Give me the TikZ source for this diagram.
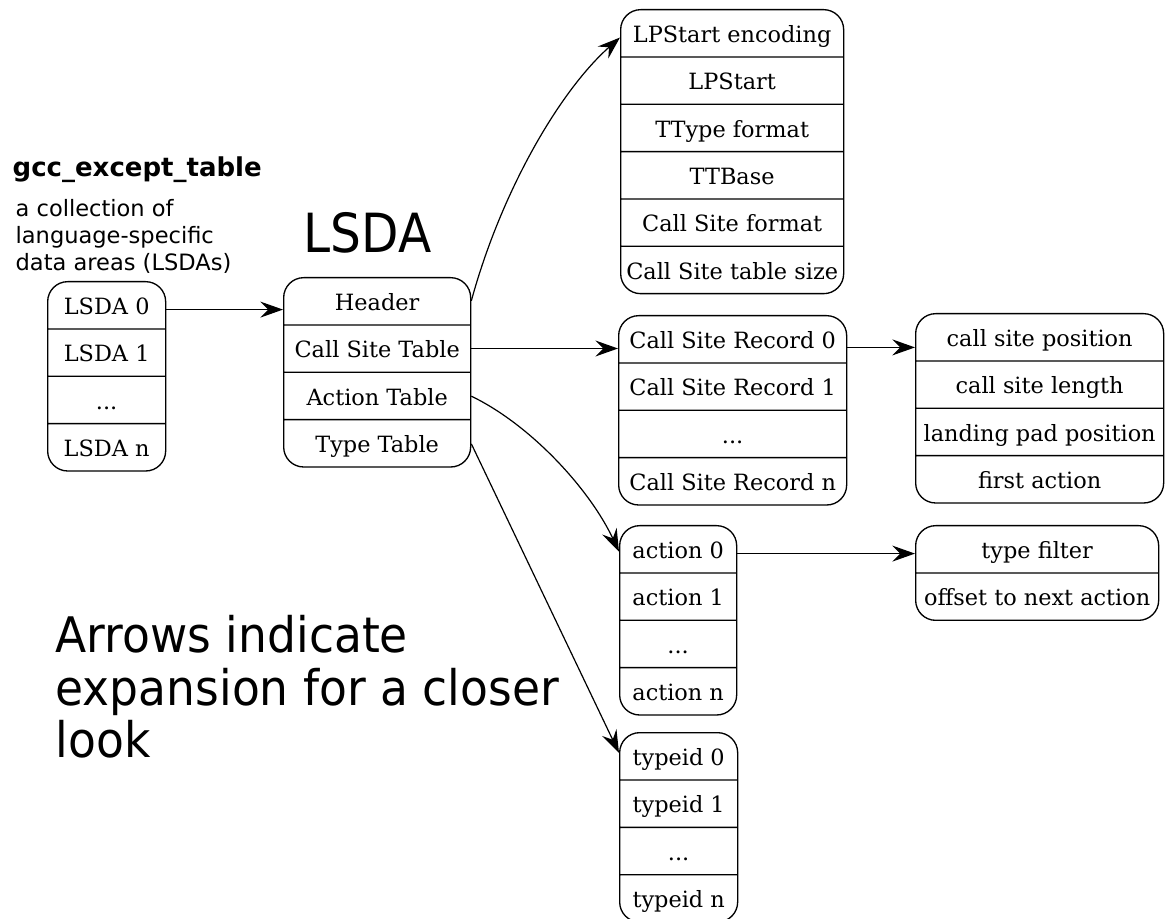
\documentclass[tikz,border=0pt]{standalone}
\usepackage{fontspec}
\setmainfont{DejaVu Serif}
\setsansfont{DejaVu Sans}
\newfontfamily\narrowsans[FakeStretch=0.9]{DejaVu Sans}
\newfontfamily\notesans[FakeStretch=0.93]{DejaVu Sans}
\usetikzlibrary{shapes.multipart,arrows.meta,calc}
% every field of a record gets the same height
\newcommand\fs{\rule[-10.4pt]{0pt}{34.5pt}}

\begin{document}
\begin{tikzpicture}
[ x=0.75pt, y=-0.75pt, line width=1pt
, point/.style={coordinate}
, record/.style={rectangle split, rectangle split parts=#1, draw, rounded corners=15pt, anchor=north west, inner xsep=1pt, inner ysep=0pt, font=\fontsize{16.8pt}{20pt}\selectfont}
, link/.style={line width=0.9pt, -{Stealth[length=17pt, width=12pt, inset=6pt]}}
, caption/.style={inner sep=0pt, font=\sffamily}
]
\useasboundingbox (0,0) rectangle (1168,919);

% Labels:
\node (title) [caption, anchor=base west, font=\sffamily\bfseries\fontsize{19.5pt}{23pt}\selectfont] at (12,177) {gcc\_except\_table};
\node (blurb) [caption, anchor=north west, align=left, font=\sffamily\fontsize{16.9pt}{20.25pt}\selectfont] at (15,199) {a collection of\\language-specific\\data areas (LSDAs)};
\node (heading) [caption, anchor=base west, font=\narrowsans\fontsize{40.5pt}{48pt}\selectfont] at (303,253) {LSDA};
\node (note) [caption, anchor=north west, align=left, font=\notesans\fontsize{36.75pt}{39.4pt}\selectfont] at (55,615) {Arrows indicate\\expansion for a closer\\look};

% Records:
\node (lsdas) [record=4, minimum width=88.5pt] at (47,281)
  {\fs LSDA 0 \nodepart{two}\fs LSDA 1 \nodepart{three}\fs ... \nodepart{four}\fs LSDA n};
\node (lsda) [record=4, minimum width=140.25pt] at (283,277)
  {\fs Header \nodepart{two}\fs Call Site Table \nodepart{three}\fs Action Table \nodepart{four}\fs Type Table};
\node (hdr) [record=6, minimum width=167.25pt] at (620,9)
  {\fs LPStart encoding \nodepart{two}\fs LPStart \nodepart{three}\fs TType format
   \nodepart{four}\fs TTBase \nodepart{five}\fs Call Site format \nodepart{six}\fs Call Site table size};
\node (csr) [record=4, minimum width=171pt] at (618,315)
  {\fs Call Site Record 0 \nodepart{two}\fs Call Site Record 1 \nodepart{three}\fs ... \nodepart{four}\fs Call Site Record n};
\node (site) [record=4, minimum width=186pt] at (915,313)
  {\fs call site position \nodepart{two}\fs call site length \nodepart{three}\fs landing pad position \nodepart{four}\fs first action};
\node (actions) [record=4, minimum width=87.75pt] at (619,525)
  {\fs action 0 \nodepart{two}\fs action 1 \nodepart{three}\fs ... \nodepart{four}\fs action n};
\node (filter) [record=2, minimum width=182.25pt] at (915,525)
  {\fs type filter \nodepart{two}\fs offset to next action};
\node (typeids) [record=4, minimum width=88.5pt] at (619,732)
  {\fs typeid 0 \nodepart{two}\fs typeid 1 \nodepart{three}\fs ... \nodepart{four}\fs typeid n};

% Ports:
\coordinate (p0) at ($(lsdas.north east)!0.15!(lsdas.south east)$);
\coordinate (p1) at ($(lsda.north east)!0.125!(lsda.south east)$);
\coordinate (p2) at ($(lsda.north east)!0.375!(lsda.south east)$);
\coordinate (p3) at ($(lsda.north east)!0.625!(lsda.south east)$);
\coordinate (p4) at ($(lsda.north east)!0.875!(lsda.south east)$);
\coordinate (p5) at ($(csr.north east)!0.17!(csr.south east)$);
\coordinate (p6) at ($(actions.north east)!0.15!(actions.south east)$);
\coordinate (q1) at ($(hdr.north west)!0.1!(hdr.south west)$);
\coordinate (q3) at ($(actions.north west)!0.14!(actions.south west)$);
\coordinate (q4) at ($(typeids.north west)!0.11!(typeids.south west)$);

% Edges:
\draw [link] (p0) -- (p0 -| lsda.west);
\draw [link] (p1) .. controls +(30,-110) and +(-60,53) .. (q1);
\draw [link] (p2) -- (p2 -| csr.west);
\draw [link] (p3) .. controls +(60,29) and +(-29,-62) .. (q3);
\draw [link] (p4) -- (q4);
\draw [link] (p5) -- (p5 -| site.west);
\draw [link] (p6) -- (p6 -| filter.west);
\end{tikzpicture}
\end{document}
